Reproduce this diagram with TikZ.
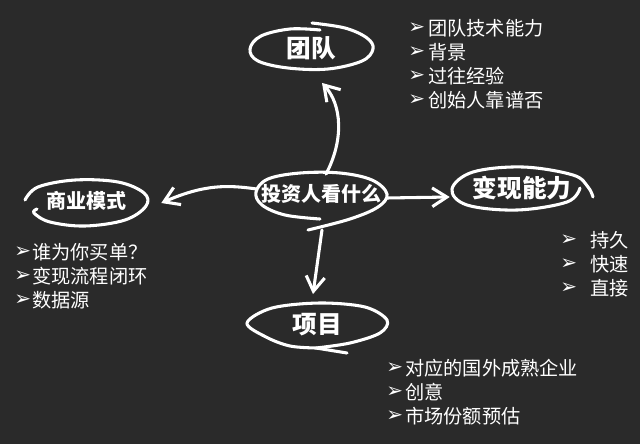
\documentclass[tikz,border=0pt]{standalone}
\usepackage{fontspec}
\setmainfont{Noto Sans CJK SC}
\newfontfamily\dvfont{DejaVu Sans}
\usetikzlibrary{arrows.meta,calc}
\definecolor{bg}{HTML}{2A2A2A}
\tikzset{
  hand/.style={draw=white, line width=2.3pt, line cap=round, line join=round},
  conn/.style={draw=white, line width=2.3pt, line cap=round,
    -{Straight Barb[length=11pt,width=14pt,line width=2.3pt]}},
  bigl/.style={text=white, font=\bfseries\fontsize{18.5}{20}\selectfont, inner sep=0pt},
  midl/.style={text=white, font=\bfseries\fontsize{15}{16}\selectfont, inner sep=0pt},
  item/.style={text=white, font=\fontsize{14.4}{16}\selectfont, anchor=west, inner sep=0pt},
  bul/.style={text=white, font=\dvfont\fontsize{15}{16}\selectfont, anchor=west, inner sep=0pt},
}
\begin{document}
\begin{tikzpicture}[x=0.75pt,y=0.75pt]
\fill[bg] (0,0) rectangle (640,-444);
\useasboundingbox (0,0) rectangle (640,-444);

% labels (node boxes sized like their ellipses)
\node[midl, minimum width=97.5pt, minimum height=34pt] (c) at (321,-194) {投资人看什么};
\node[bigl, minimum width=92pt, minimum height=31pt] (team) at (311,-48) {团队};
\node[midl, minimum width=91.5pt, minimum height=33pt] (biz) at (86,-201) {商业模式};
\node[bigl, minimum width=105pt, minimum height=33pt] (cash) at (522,-188) {变现能力};
\node[bigl, minimum width=105pt, minimum height=34pt] (proj) at (317,-325) {项目};

% hand-drawn outlines
\draw[hand] plot[smooth, tension=0.6] coordinates {(320,-219) (285,-215) (262,-205) (256,-192) (268,-179) (300,-173) (340,-173) (372,-180) (387,-194) (378,-207) (350,-219) (308,-230)};
\draw[hand] plot[smooth, tension=0.6] coordinates {(312,-23) (345,-28) (367,-38) (373,-49) (362,-61) (328,-69) (288,-68) (258,-61) (250,-49) (261,-36) (290,-29) (320,-30)};
\draw[hand] plot[smooth, tension=0.6] coordinates {(25,-200) (38,-187) (75,-180) (118,-182) (144,-193) (146,-206) (125,-220) (85,-226) (50,-222) (34,-213) (37,-209)};
\draw[hand] plot[smooth, tension=0.6] coordinates {(580,-188) (567,-202) (517,-210) (467,-205) (452,-189) (473,-172) (523,-167) (573,-175) (588,-187) (593,-197)};
\draw[hand] plot[smooth, tension=0.55] coordinates {(316,-348) (290,-346) (266,-337) (247,-323) (272,-308) (320,-303) (365,-307) (387,-320) (380,-333) (350,-343) (316,-348)};
\draw[hand] (316,-348) -- (347,-353);

% connectors
\draw[conn] ($(c.north)+(5,-3)$) .. controls (344,-140) and (342,-105) .. ($(team.south)+(11,-14)$);
\draw[conn] ($(c.west)+(1,5)$) .. controls (228,-185) and (205,-184) .. ($(biz.east)+(14,-2)$);
\draw[conn] ($(c.east)+(0,-4)$) -- ($(cash.west)+(-2,-9)$);
\draw[conn] ($(c.south)+(1,-13)$) -- ($(proj.north)+(-4,8)$);

% top-right list
\node[bul] (b1) at (408,-28) {➢};
\node[item] (t1) at (428,-28) {团队技术能力};
\node[bul] (b2) at (408,-52) {➢};
\node[item] (t2) at (428,-52) {背景};
\node[bul] (b3) at (408,-76) {➢};
\node[item] (t3) at (428,-76) {过往经验};
\node[bul] (b4) at (408,-100) {➢};
\node[item] (t4) at (428,-100) {创始人靠谱否};

% left list
\node[bul] (b5) at (14,-252) {➢};
\node[item] (t5) at (32,-252) {谁为你买单？};
\node[bul] (b6) at (14,-276) {➢};
\node[item] (t6) at (32,-276) {变现流程闭环};
\node[bul] (b7) at (14,-300) {➢};
\node[item] (t7) at (32,-300) {数据源};

% right list
\node[bul] (b8) at (560,-240) {➢};
\node[item] (t8) at (590,-240) {持久};
\node[bul] (b9) at (560,-264) {➢};
\node[item] (t9) at (590,-264) {快速};
\node[bul] (b10) at (560,-288) {➢};
\node[item] (t10) at (590,-288) {直接};

% bottom list
\node[bul] (b11) at (386,-368) {➢};
\node[item] (t11) at (405,-368) {对应的国外成熟企业};
\node[bul] (b12) at (386,-392) {➢};
\node[item] (t12) at (405,-392) {创意};
\node[bul] (b13) at (386,-416) {➢};
\node[item] (t13) at (405,-416) {市场份额预估};
\end{tikzpicture}
\end{document}
